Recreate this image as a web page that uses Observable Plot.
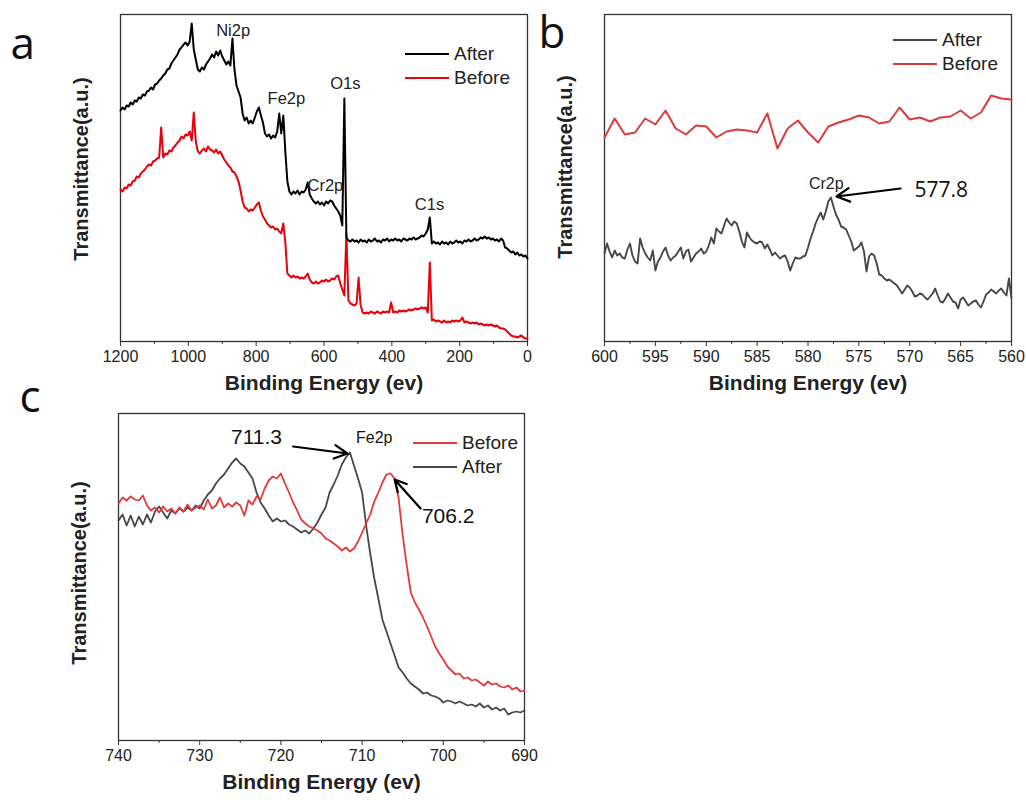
<!DOCTYPE html>
<html><head><meta charset="utf-8">
<script src="https://cdn.jsdelivr.net/npm/d3@7"></script>
<script src="https://cdn.jsdelivr.net/npm/@observablehq/plot@0.6"></script>
<style>
body{margin:0;background:#fff;}
#root{position:relative;width:1026px;height:800px;overflow:hidden;font-family:"Liberation Sans",Arial,sans-serif;background:#fff;}
.panel{position:absolute;}
.panel svg{overflow:visible;}
.legend{position:absolute;font-size:19px;color:#222;line-height:24px;font-family:"Liberation Sans",Arial,sans-serif;}
.legend .item{display:flex;align-items:center;white-space:nowrap;}
.legend .sw{display:inline-block;width:44px;height:2px;margin-right:5px;}
</style></head><body><div id="root"></div>
<script>
// ---------- Panel a: XPS survey (binding energy 1200 -> 0 eV, step 6 eV) ----------
const surveyEnergyStart = 1200, surveyEnergyStep = 6;
const surveyAfter = [
231,234,232,236,235,239,237,241,240,244,
243,247,246,250,251,254,252,257,258,261,
263,266,268,272,273,278,281,284,287,292,
294,297,299,296,300,318,292,282,272,270,
274,272,277,280,283,287,284,290,286,291,
285,281,277,280,276,303,272,256,250,244,
228,221,224,218,221,218,224,230,234,226,
219,208,205,207,203,206,204,210,228,208,
226,190,160,150,147,150,148,151,147,150,
149,152,159,147,143,140,138,140,137,139,
136,140,138,141,140,136,133,130,126,116,
243,104,101,100,102,100,101,99,102,100,
101,99,102,100,101,103,100,101,99,102,
101,103,100,102,101,103,101,102,100,103,
102,101,103,102,104,102,103,104,106,105,
108,112,124,98,100,98,99,97,100,98,
99,97,100,98,99,101,99,100,98,101,
100,102,100,101,103,101,102,104,103,105,
103,104,102,103,101,102,100,103,101,94,
93,91,89,90,87,89,86,87,85,86,
83];
const surveyBefore = [
152,150,154,153,157,156,160,161,165,164,
168,170,172,175,177,176,180,181,183,184,
214,184,188,187,191,190,194,196,199,201,
205,203,207,206,210,201,229,200,190,188,
191,193,190,195,192,191,189,192,188,190,
186,182,179,176,174,170,169,165,160,151,
140,134,133,130,132,131,134,137,139,131,
125,122,118,116,114,115,112,113,110,108,
118,99,68,66,64,66,64,65,63,64,
63,65,68,62,59,58,60,58,59,61,
60,62,60,61,63,62,65,66,58,52,
46,108,41,38,37,36,38,64,36,29,
28,29,28,30,29,28,30,29,28,30,
29,30,29,39,29,30,29,31,30,31,
30,31,32,31,32,33,32,33,34,33,
34,29,79,21,22,20,21,20,19,21,
19,20,19,21,20,21,20,21,24,19,
20,19,18,19,18,19,17,18,17,16,
17,16,17,16,15,16,14,13,13,12,
10,8,6,5,5,4,5,6,4,3,
3];
const surveyTicks = [1200, 1000, 800, 600, 400, 200, 0];
const surveyMinorTicks = [1100, 900, 700, 500, 300, 100];
const surveyPeakNames = ["Ni2p", "Fe2p", "O1s", "Cr2p", "C1s"];
const surveyPeakEnergy = [868, 711, 537, 596, 289];
const surveyPeakLevel = [311, 243, 258, 156, 137];

// ---------- Panel b: Cr2p region (600 -> 560 eV) ----------
const crEnergyStart = 600, crAfterStep = 0.25, crBeforeStep = 1;
const crAfter = [
88,98,90,84,91,86,88,84,
83,92,98,86,80,78,103,94,
88,84,81,91,71,80,84,90,
94,86,81,84,86,90,94,83,
90,92,80,84,88,90,93,88,
90,96,104,98,113,110,108,116,
123,119,116,120,118,110,100,94,
109,104,101,99,98,100,99,93,
97,92,86,89,86,83,85,86,
80,71,78,84,83,83,85,86,
94,103,110,118,124,129,122,130,
140,144,135,127,122,115,114,112,
106,100,91,93,95,99,90,70,
85,88,86,78,67,66,63,61,
62,60,58,56,52,48,52,56,
54,50,45,46,48,47,44,42,
45,48,53,46,40,39,43,48,
44,40,39,33,42,44,40,36,
38,40,41,37,34,40,47,49,
52,50,48,51,53,49,46,63,
43];
const crBefore = [204,223,207,209,223,217,231,213,207,216,215,204,210,212,211,209,228,193,213,221,209,199,215,219,222,226,224,218,220,234,222,224,220,224,225,231,223,229,246,243,242];
const crTicks = [600, 595, 590, 585, 580, 575, 570, 565, 560];
const crMinorTicks = [597.5, 592.5, 587.5, 582.5, 577.5, 572.5, 567.5, 562.5];
const crPeakName = ["Cr2p"], crPeakEnergy = [578.2], crPeakLevel = [158];
const crValueText = ["577.8"], crValueEnergy = [566.9], crValueLevel = [151];
const crArrowFrom = [570.9, 153], crArrowTo = [577.2, 145];

// ---------- Panel c: Fe2p region (740 -> 690 eV, step 0.5 eV) ----------
const feEnergyStart = 740, feStep = 0.5;
const feAfter = [
220,226,215,225,214,224,216,226,218,229,
234,228,222,230,227,232,229,233,230,235,
232,240,246,250,257,262,266,272,278,282,
277,274,268,262,248,238,232,225,219,222,
219,220,216,214,211,208,210,207,212,218,
226,233,248,256,265,276,283,288,275,262,
248,215,187,162,142,121,109,97,85,73,
68,62,57,54,51,47,48,45,44,42,
38,40,39,37,39,37,35,36,34,37,
33,35,31,33,30,32,26,28,29,28,
30];
const feBefore = [
237,243,240,244,241,240,245,235,230,233,
228,234,229,232,227,233,229,236,230,233,
235,231,241,232,235,243,233,237,234,238,
235,225,240,236,244,241,252,260,264,262,
267,257,248,238,230,221,217,214,212,210,
207,202,200,197,194,190,193,189,192,199,
208,217,226,239,248,258,266,267,262,242,
205,175,148,138,131,123,114,104,94,87,
81,74,70,66,67,62,63,60,61,58,
55,59,56,57,54,53,55,51,53,49,
50];
const feTicks = [740, 730, 720, 710, 700, 690];
const feMinorTicks = [735, 725, 715, 705, 695];
const feLabelTexts = ["711.3", "Fe2p", "706.2"];
const feLabelEnergy = [723.0, 708.5, 699.4];
const feLabelLevel = [303, 303, 224];
const feArrowFrom = [[718.5, 294], [702.8, 232]];
const feArrowTo = [[711.8, 287], [706.0, 261]];

// sanity checks
if (surveyAfter.length !== 201 || surveyBefore.length !== 201) throw new Error("survey len " + surveyAfter.length + " " + surveyBefore.length);
if (crAfter.length !== 161 || crBefore.length !== 41) throw new Error("cr len " + crAfter.length + " " + crBefore.length);
if (feAfter.length !== 101 || feBefore.length !== 101) throw new Error("fe len " + feAfter.length + " " + feBefore.length);

const toRows = (vals, start, step) => vals.map((v, i) => ({E: start - i * step, v}));
const FONT = "Liberation Sans, Arial, sans-serif";
const NUMFONT = "Open Sans, Lato, sans-serif";
const INK = "#333";

function commonMarks(major, minor, yLabelDy) {
  return [
    Plot.frame({stroke: INK, strokeWidth: 1.3}),
    Plot.axisX({ticks: major, tickSize: 5, tickPadding: 4, tickFormat: d => String(d), fontSize: 16, label: null, stroke: INK, fill: "#222"}),
    Plot.axisX({ticks: minor, tickSize: 3, tickFormat: () => "", label: null, stroke: INK}),
    Plot.text(["Binding Energy (ev)"], {frameAnchor: "bottom", dy: 48, text: d => d, fontWeight: "bold", fontSize: 21, fill: "#222"}),
    Plot.text(["Transmittance(a.u.)"], {frameAnchor: "left", textAnchor: "middle", dx: -39, dy: yLabelDy, rotate: -90, text: d => d, fontWeight: "bold", fontSize: 20, fill: "#222"})
  ];
}
function panelLetter(letter, dx, dy) {
  return Plot.text([letter], {frameAnchor: "top-left", dx, dy, textAnchor: "start", lineAnchor: "middle", text: d => d, fontSize: 44, fontFamily: NUMFONT, fill: "#111"});
}

const root = document.getElementById("root");
function place(node, left, top, w) {
  const d = document.createElement("div");
  d.className = "panel";
  d.style.left = left + "px"; d.style.top = top + "px"; d.style.width = w + "px";
  d.appendChild(node);
  root.appendChild(d);
}
function legend(left, top, items) {
  const d = document.createElement("div");
  d.className = "legend";
  d.style.left = left + "px"; d.style.top = top + "px";
  for (const [label, color] of items) {
    const it = document.createElement("div"); it.className = "item";
    const sw = document.createElement("span"); sw.className = "sw"; sw.style.background = color;
    const t = document.createElement("span"); t.textContent = label;
    it.appendChild(sw); it.appendChild(t); d.appendChild(it);
  }
  root.appendChild(d);
}
const baseStyle = {fontFamily: FONT, fontSize: "16px", color: "#222", background: "transparent", overflow: "visible"};

// Panel a
const plotA = Plot.plot({
  width: 534, height: 400, marginLeft: 120, marginRight: 7, marginTop: 14, marginBottom: 59,
  x: {domain: [1200, 0]}, y: {domain: [0, 327], axis: null},
  style: baseStyle,
  marks: [
    ...commonMarks(surveyTicks, surveyMinorTicks, -9),
    Plot.line(toRows(surveyBefore, surveyEnergyStart, surveyEnergyStep), {x: "E", y: "v", stroke: "#e8000b", strokeWidth: 2}),
    Plot.line(toRows(surveyAfter, surveyEnergyStart, surveyEnergyStep), {x: "E", y: "v", stroke: "#000", strokeWidth: 2}),
    Plot.text(surveyPeakNames.map((n, i) => ({n, E: surveyPeakEnergy[i], v: surveyPeakLevel[i]})), {x: "E", y: "v", text: "n", fontSize: 16.5, fill: "#222"}),
    panelLetter("a", -110, 30)
  ]
});
place(plotA, 0, 0, 534);
legend(405, 42, [["After", "#000"], ["Before", "#e8000b"]]);

// Panel b
const plotB = Plot.plot({
  width: 492, height: 400, marginLeft: 70, marginRight: 15, marginTop: 14, marginBottom: 59,
  x: {domain: [600, 560]}, y: {domain: [0, 327], axis: null},
  style: baseStyle,
  marks: [
    ...commonMarks(crTicks, crMinorTicks, -11),
    Plot.line(toRows(crBefore, crEnergyStart, crBeforeStep), {x: "E", y: "v", stroke: "#dc3b3d", strokeWidth: 2}),
    Plot.line(toRows(crAfter, crEnergyStart, crAfterStep), {x: "E", y: "v", stroke: "#474747", strokeWidth: 1.9}),
    Plot.text(crPeakName, {x: () => crPeakEnergy[0], y: () => crPeakLevel[0], text: d => d, fontSize: 16, fill: "#222"}),
    Plot.text(crValueText, {x: () => crValueEnergy[0], y: () => crValueLevel[0], text: d => d, fontSize: 21, fontFamily: NUMFONT, fill: "#111"}),
    Plot.arrow([0], {x1: () => crArrowFrom[0], y1: () => crArrowFrom[1], x2: () => crArrowTo[0], y2: () => crArrowTo[1], stroke: "#000", strokeWidth: 2.2, headLength: 10, headAngle: 55}),
    panelLetter("b", -66, 19)
  ]
});
place(plotB, 534, 0, 492);
legend(893, 28, [["After", "#474747"], ["Before", "#dc3b3d"]]);

// Panel c
const plotC = Plot.plot({
  width: 540, height: 400, marginLeft: 118, marginRight: 16, marginTop: 13, marginBottom: 60,
  x: {domain: [740, 690]}, y: {domain: [0, 327], axis: null},
  style: baseStyle,
  marks: [
    ...commonMarks(feTicks, feMinorTicks, -4),
    Plot.line(toRows(feAfter, feEnergyStart, feStep), {x: "E", y: "v", stroke: "#474747", strokeWidth: 1.8}),
    Plot.line(toRows(feBefore, feEnergyStart, feStep), {x: "E", y: "v", stroke: "#e2393b", strokeWidth: 1.8}),
    Plot.text(feLabelTexts.map((t, i) => ({t, E: feLabelEnergy[i], v: feLabelLevel[i]})), {x: "E", y: "v", text: "t",
      fontSize: d => d.t === "Fe2p" ? 16 : 21, fontFamily: d => d.t === "Fe2p" ? FONT : NUMFONT, fill: "#111"}),
    Plot.arrow(feArrowFrom.map((f, i) => ({x1: f[0], y1: f[1], x2: feArrowTo[i][0], y2: feArrowTo[i][1]})), {x1: "x1", y1: "y1", x2: "x2", y2: "y2", stroke: "#000", strokeWidth: 2.2, headLength: 10, headAngle: 55}),
    panelLetter("c", -99, -16)
  ]
});
place(plotC, 0, 400, 540);
legend(413, 431, [["Before", "#e2393b"], ["After", "#474747"]]);
</script></body></html>
